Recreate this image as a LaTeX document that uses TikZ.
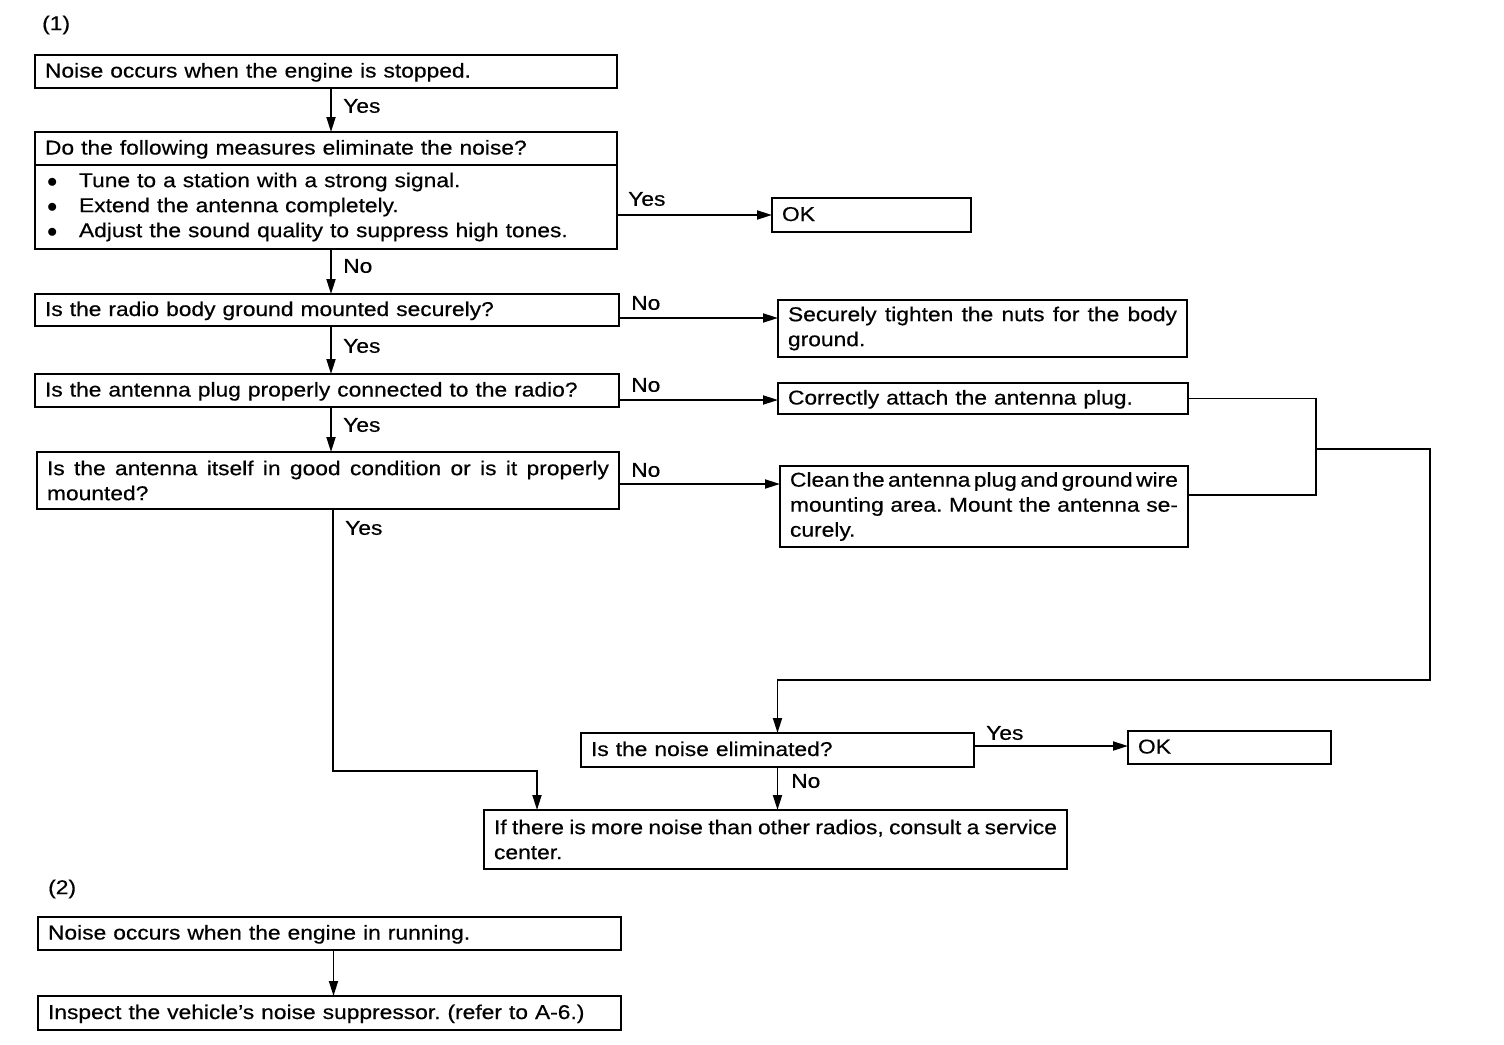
\documentclass[tikz,border=0pt]{standalone}
\usepackage{fontspec}
\setmainfont{Liberation Sans}[FakeStretch=1.14,FakeBold=0.5]
\usetikzlibrary{arrows.meta}
\newcommand\diafont{\fontsize{20}{25}\selectfont\frenchspacing\tolerance=9999\hyphenpenalty=10000}
\newcommand\setsp{\spaceskip=7pt plus 6pt minus 4pt\xspaceskip=7pt plus 6pt minus 4pt\relax}
\newcommand\bul{\makebox[34pt][l]{\hspace{2pt}$\bullet$}}
\begin{document}
\begin{tikzpicture}[x=1pt,y=-1pt,
  every node/.style={font=\diafont, execute at begin node=\setsp},
  box/.style={draw, line width=1.8pt, anchor=north west, inner xsep=10pt, inner ysep=0pt, outer sep=0pt, align=left},
  sbox/.style={box, text height=16pt, text depth=4pt},
  jbox/.style={box, align=justify},
  lbl/.style={anchor=west, inner sep=0pt},
  ln/.style={line width=1.8pt},
  arr/.style={ln, -{Triangle[length=15pt,width=9pt]}}]
\useasboundingbox (0,0) rectangle (1504,1044);
% labels (1) and (2)
\node[lbl] (t1) at (42,25) {(1)};
\node[lbl] (t2) at (48,889) {(2)};
% boxes
\node[sbox, minimum width=582pt, minimum height=33pt, text width=562pt] (b1) at (35,55) {Noise occurs when the engine is stopped.};
\node[sbox, minimum width=582pt, minimum height=33pt, text width=562pt] (b2h) at (35,132) {Do the following measures eliminate the noise?};
\node[box, minimum width=582pt, minimum height=84pt, text width=562pt] (b2b) at (35,165) {\bul Tune to a station with a strong signal.\\ \bul Extend the antenna completely.\\ \bul Adjust the sound quality to suppress high tones.};
\node[sbox, minimum width=199pt, minimum height=34pt, text width=179pt] (ok1) at (772,198) {OK};
\node[sbox, minimum width=584pt, minimum height=32pt, text width=564pt] (b3) at (35,294) {Is the radio body ground mounted securely?};
\node[jbox, minimum width=409pt, minimum height=57pt, text width=389pt] (sec) at (778,300) {Securely tighten the nuts for the body\linebreak ground.};
\node[sbox, minimum width=584pt, minimum height=33pt, text width=564pt] (b4) at (35,374) {Is the antenna plug properly connected to the radio?};
\node[sbox, minimum width=410pt, minimum height=31pt, text width=390pt] (corr) at (778,383) {Correctly attach the antenna plug.};
\node[jbox, minimum width=582pt, minimum height=57pt, text width=562pt] (b5) at (37,452) {Is the antenna itself in good condition or is it properly\linebreak mounted?};
\node[jbox, minimum width=408pt, minimum height=81pt, text width=388pt] (clean) at (780,466) {Clean the antenna plug and ground wire\linebreak mounting area. Mount the antenna se-\linebreak curely.};
\node[sbox, minimum width=393pt, minimum height=34pt, text width=373pt] (ne) at (581,733) {Is the noise eliminated?};
\node[sbox, minimum width=203pt, minimum height=33pt, text width=183pt] (ok2) at (1128,731) {OK};
\node[jbox, minimum width=583pt, minimum height=59pt, text width=563pt] (srv) at (484,810) {If there is more noise than other radios, consult a service\linebreak center.};
\node[sbox, minimum width=583pt, minimum height=33pt, text width=563pt] (b6) at (38,917) {Noise occurs when the engine in running.};
\node[sbox, minimum width=583pt, minimum height=34pt, text width=563pt] (b7) at (38,996) {Inspect the vehicle's noise suppressor. (refer to A-6.)};
% connectors
\draw[arr] ([xshift=5pt]b1.south) -- ([xshift=5pt]b1.south |- b2h.north);
\draw[arr] (b2b.east |- ok1.west) -- (ok1.west);
\draw[arr] ([xshift=5pt]b2b.south) -- ([xshift=5pt]b2b.south |- b3.north);
\draw[arr] ([yshift=-8pt]b3.east) -- ([yshift=-8pt]b3.east -| sec.west);
\draw[arr] ([xshift=4pt]b3.south) -- ([xshift=4pt]b3.south |- b4.north);
\draw[arr] ([yshift=-9.5pt]b4.east) -- ([yshift=-9.5pt]b4.east -| corr.west);
\draw[arr] ([xshift=4pt]b4.south) -- ([xshift=4pt]b4.south |- b5.north);
\draw[arr] ([yshift=-3.5pt]b5.east) -- ([yshift=-3.5pt]b5.east -| clean.west);
\coordinate (jn) at (1316,449);
\coordinate (c1) at (1430,680);
\coordinate (c2) at (537,771);
\draw[ln] (corr.east) -| (jn) |- ([yshift=11.5pt]clean.east);
\draw[arr] (jn) -| (c1) -| (ne.north);
\draw[arr] ([yshift=4pt]ne.east) -- ([yshift=4pt]ne.east -| ok2.west);
\draw[arr] (ne.south) -- (ne.south |- srv.north);
\draw[arr] ([xshift=5pt]b5.south) |- (c2) -- (c2 |- srv.north);
\draw[arr] ([xshift=4pt]b6.south) -- ([xshift=4pt]b6.south |- b7.north);
% connector labels
\node[lbl] (y1) at (343,106) {Yes};
\node[lbl] (y2) at (628,199) {Yes};
\node[lbl] (n1) at (343,266) {No};
\node[lbl] (n2) at (631,303) {No};
\node[lbl] (y3) at (343,346) {Yes};
\node[lbl] (n3) at (631,385) {No};
\node[lbl] (y4) at (343,425) {Yes};
\node[lbl] (n4) at (631,470) {No};
\node[lbl] (y5) at (345,528) {Yes};
\node[lbl] (y6) at (986,733) {Yes};
\node[lbl] (n5) at (791,781) {No};
\end{tikzpicture}
\end{document}
